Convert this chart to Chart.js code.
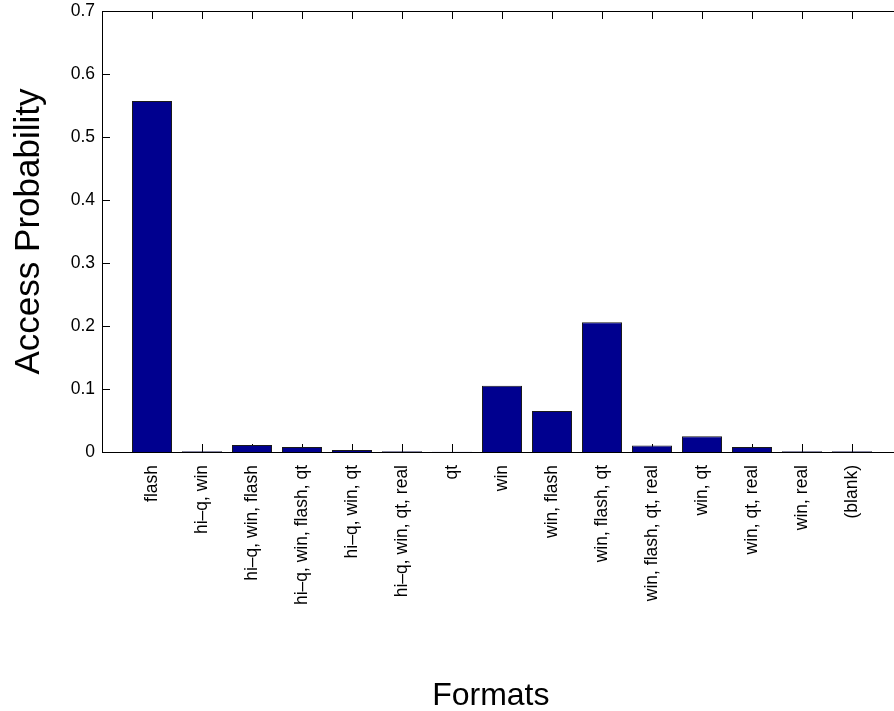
<!DOCTYPE html>
<html>
<head>
<meta charset="utf-8">
<script src="https://cdn.jsdelivr.net/npm/chart.js@4/dist/chart.umd.min.js"></script>
<style>
  html, body { margin: 0; padding: 0; background: #fff; overflow: hidden; }
  #wrap { width: 894px; height: 711px; overflow: hidden; }
  canvas { display: block; }
</style>
</head>
<body>
<div id="wrap"><canvas id="c" width="902" height="711"></canvas></div>
<script>
const categories = [
  "flash", "hi\u2013q, win", "hi\u2013q, win, flash", "hi\u2013q, win, flash, qt",
  "hi\u2013q, win, qt", "hi\u2013q, win, qt, real", "qt", "win", "win, flash",
  "win, flash, qt", "win, flash, qt, real", "win, qt", "win, qt, real",
  "win, real", "(blank)"
];
const accessProbability = [
  0.557, 0.001, 0.011, 0.008, 0.003, 0.001, 0.0005, 0.105, 0.065,
  0.206, 0.0105, 0.025, 0.008, 0.001, 0.001
];
const yTicks = [0, 0.1, 0.2, 0.3, 0.4, 0.5, 0.6, 0.7];
const xTitle = 'Formats';
const yTitle = 'Access Probability';

const FONT = "'Liberation Sans', Arial, Helvetica, sans-serif";

const framePlugin = {
  id: 'frame',
  beforeDatasetsDraw(chart) {
    const { ctx, chartArea: a, scales: { x, y } } = chart;
    ctx.save();
    ctx.strokeStyle = '#000';
    ctx.lineWidth = 1;
    ctx.beginPath();
    x.ticks.forEach((t, i) => {
      if (t.value < 1 || t.value > categories.length) return;
      const px = Math.round(x.getPixelForTick(i)) + 0.5;
      ctx.moveTo(px, a.bottom); ctx.lineTo(px, a.bottom - 8);
      ctx.moveTo(px, a.top); ctx.lineTo(px, a.top + 8);
    });
    y.ticks.forEach((t, i) => {
      const py = Math.round(y.getPixelForTick(i)) + 0.5;
      ctx.moveTo(a.left, py); ctx.lineTo(a.left + 8, py);
      ctx.moveTo(a.right, py); ctx.lineTo(a.right - 8, py);
    });
    ctx.stroke();
    ctx.restore();
  },
  afterDatasetsDraw(chart) {
    const { ctx, chartArea: a } = chart;
    ctx.save();
    ctx.strokeStyle = '#000';
    ctx.lineWidth = 1;
    ctx.strokeRect(Math.round(a.left) + 0.5, Math.round(a.top) + 0.5,
                   Math.round(a.right - a.left), Math.round(a.bottom - a.top));
    ctx.restore();
  },
  afterDraw(chart) {
    const { ctx, chartArea: a } = chart;
    ctx.save();
    ctx.fillStyle = '#000';
    ctx.font = '32px ' + FONT;
    ctx.textAlign = 'center';
    ctx.textBaseline = 'alphabetic';
    ctx.fillText(xTitle, a.left + (a.right - a.left) * 0.486, 705);
    ctx.restore();
  }
};

new Chart(document.getElementById('c'), {
  type: 'bar',
  data: {
    datasets: [{
      data: categories.map((c, i) => ({ x: i + 1, y: accessProbability[i] })),
      backgroundColor: '#00008F',
      borderColor: '#1a1a1a',
      borderWidth: 1,
      barPercentage: 0.8,
      categoryPercentage: 1.0
    }]
  },
  options: {
    responsive: false,
    animation: false,
    devicePixelRatio: 1,
    layout: { padding: { top: 11, right: 0, bottom: 0, left: 0 } },
    plugins: { legend: { display: false }, tooltip: { enabled: false } },
    scales: {
      x: {
        type: 'linear',
        min: 0,
        max: categories.length + 1,
        offset: false,
        grid: { display: false, drawTicks: false, offset: false },
        border: { display: false },
        afterBuildTicks(scale) {
          scale.ticks = [];
          for (let v = 0; v <= categories.length + 1; v++) scale.ticks.push({ value: v });
        },
        ticks: {
          autoSkip: false,
          minRotation: 90,
          maxRotation: 90,
          padding: 13,
          color: '#000',
          font: { family: FONT, size: 17.5 },
          callback: (v) => (v >= 1 && v <= categories.length) ? categories[v - 1] : ''
        },
        title: { display: false },
        afterFit(scale) {
          scale.height = 259;
          scale.paddingLeft = 0;
          scale.paddingRight = 0;
        }
      },
      y: {
        min: 0,
        max: 0.7,
        grid: { display: false, drawTicks: false },
        border: { display: false },
        afterBuildTicks(scale) { scale.ticks = yTicks.map(v => ({ value: v })); },
        ticks: {
          padding: 7,
          color: '#000',
          font: { family: FONT, size: 17.5 },
          callback: (v) => v === 0 ? '0' : Number(v).toFixed(1)
        },
        title: {
          display: true,
          text: yTitle,
          color: '#000',
          font: { family: FONT, size: 35, lineHeight: 1.2 },
          padding: { top: 8, bottom: 0 }
        },
        afterFit(scale) {
          scale.width = 102;
          scale.paddingTop = 0;
          scale.paddingBottom = 0;
        }
      }
    }
  },
  plugins: [framePlugin]
});
</script>
</body>
</html>
